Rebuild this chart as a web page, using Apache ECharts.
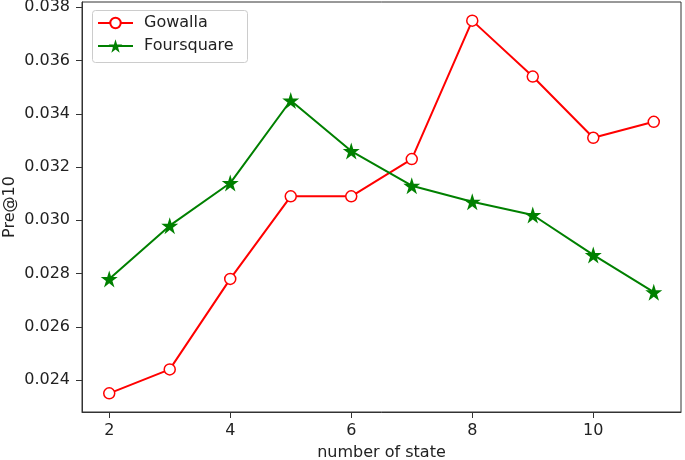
<!DOCTYPE html>
<html><head><meta charset="utf-8">
<script src="https://cdn.jsdelivr.net/npm/echarts@6/dist/echarts.min.js"></script>
<style>html,body{margin:0;padding:0;background:#fff}#c{width:685px;height:460px}</style>
</head><body><div id="c"></div>
<script>
const states = [2, 3, 4, 5, 6, 7, 8, 9, 10, 11];
const gowalla = [0.0235, 0.0244, 0.0278, 0.0309, 0.0309, 0.0323, 0.0375, 0.0354, 0.0331, 0.0337];
const foursquare = [0.0278, 0.0298, 0.0314, 0.0345, 0.0326, 0.0313, 0.0307, 0.0302, 0.0287, 0.0273];
const xTicks = [2, 4, 6, 8, 10];
const yTicks = [0.024, 0.026, 0.028, 0.030, 0.032, 0.034, 0.036, 0.038];

const star = 'path://M50 0 L61.17 34.63 L97.55 34.55 L68.07 55.87 L79.39 90.45 L50 69 L20.61 90.45 L31.93 55.87 L2.45 34.55 L38.83 34.63 Z';
const font = 'DejaVu Sans';
const legendCommon = {
  orient: 'vertical', left: 97, padding: 0, itemWidth: 35,
  textStyle: {fontFamily: font, fontSize: 16, color: '#222', padding: [0, 0, 0, 6]}
};
const chart = echarts.init(document.getElementById('c'), null, {renderer: 'canvas'});
chart.setOption({
  animation: false,
  backgroundColor: '#fff',
  grid: {left: 82, right: 4, top: 2, bottom: 48, outerBoundsMode: 'none', containLabel: false,
         show: true, borderColor: '#333', borderWidth: 1, backgroundColor: 'transparent'},
  graphic: [{type: 'rect', left: 92, top: 10, z: 5,
    shape: {width: 155, height: 52, r: 3},
    style: {fill: '#fff', stroke: '#ccc', lineWidth: 1}}],
  legend: [
    Object.assign({}, legendCommon, {top: 15, itemHeight: 13, data: ['Gowalla'], z: 10}),
    Object.assign({}, legendCommon, {top: 38, itemHeight: 17, data: ['Foursquare'], z: 10})
  ],
  xAxis: {
    type: 'value', min: 1.55, max: 11.45,
    name: 'number of state', nameLocation: 'middle', nameGap: 33, nameMoveOverlap: false,
    nameTextStyle: {fontFamily: font, fontSize: 16, color: '#222'},
    axisLine: {show: true, lineStyle: {color: '#333'}},
    axisTick: {show: true, length: 6, lineStyle: {color: '#333'}, customValues: xTicks},
    axisLabel: {fontFamily: font, fontSize: 16, color: '#222', margin: 11, customValues: xTicks},
    splitLine: {show: false}
  },
  yAxis: {
    type: 'value', min: 0.0228, max: 0.0382,
    name: 'Pre@10', nameLocation: 'middle', nameGap: 64, nameMoveOverlap: false,
    nameTextStyle: {fontFamily: font, fontSize: 16, color: '#222'},
    axisLine: {show: true, lineStyle: {color: '#333'}},
    axisTick: {show: true, length: 6, lineStyle: {color: '#333'}, customValues: yTicks},
    axisLabel: {fontFamily: font, fontSize: 16, color: '#222', margin: 12, customValues: yTicks,
      formatter: v => v.toFixed(3)},
    splitLine: {show: false}
  },
  series: [
    {name: 'Gowalla', type: 'line', data: states.map((s, i) => [s, gowalla[i]]),
     symbol: 'circle', symbolSize: 11, showAllSymbol: true,
     lineStyle: {color: '#ff0000', width: 2},
     itemStyle: {color: '#ffffff', borderColor: '#ff0000', borderWidth: 1.5}},
    {name: 'Foursquare', type: 'line', data: states.map((s, i) => [s, foursquare[i]]),
     symbol: star, symbolSize: 17, showAllSymbol: true,
     lineStyle: {color: '#008000', width: 2},
     itemStyle: {color: '#008000', borderColor: '#008000', borderWidth: 0}}
  ]
});
</script></body></html>
